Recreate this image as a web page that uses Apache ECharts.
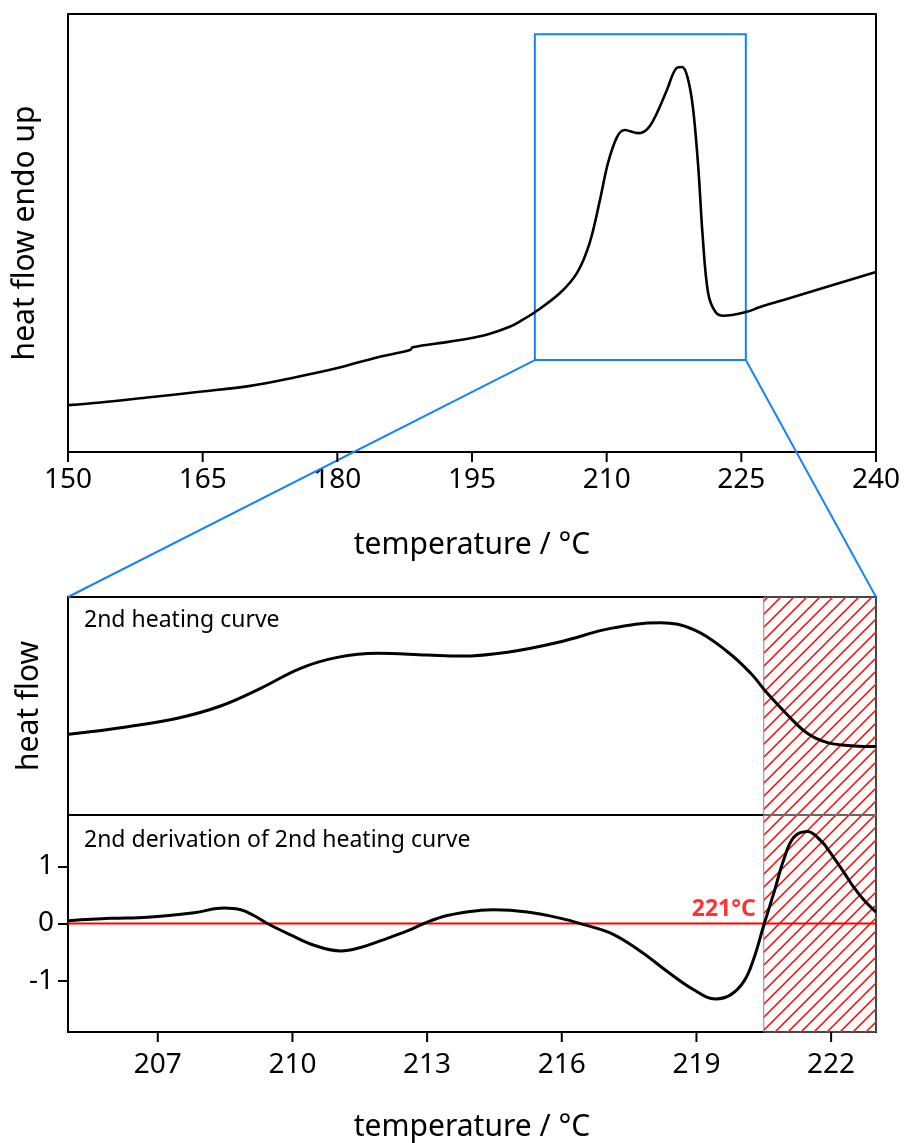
<!DOCTYPE html>
<html>
<head>
<meta charset="utf-8">
<script src="https://cdn.jsdelivr.net/npm/echarts@6/dist/echarts.min.js"></script>
<style>
  html, body { margin: 0; padding: 0; background: #fff; }
  #chart { width: 905px; height: 1143px; }
</style>
</head>
<body>
<div id="chart"></div>
<script>
// full DSC scan, 150-240 °C (heat flow in arbitrary units)
const fullTemp = [150, 153.6, 159.1, 164.9, 170.3, 174.7, 179.9, 184.4, 188.1, 188.4, 192.5, 196.3,
  199.2, 200.4, 202, 204.8, 206.7, 208.1, 209.25, 210.15, 211.15, 212.0, 213.5, 214.6, 215.6, 216.7,
  217.8, 218.4, 219.0, 219.6, 220.2, 220.7, 221.3, 222.1, 223.0, 225.6, 227.1, 229.7, 240]
const fullFlow = [10.7, 11.3, 12.5, 13.8, 15.1, 16.8, 19.1, 21.6, 23.3, 23.9, 25.2, 26.6,
  28.6, 29.9, 31.9, 36.3, 40.9, 47.7, 57.5, 66.0, 71.9, 73.5, 72.8, 73.9, 77.4, 82.6,
  87.7, 87.9, 85.6, 78.8, 65.1, 49.1, 36.3, 32.0, 31.1, 32.0, 33.1, 34.7, 41.1]
const fullTicks = [150, 165, 180, 195, 210, 225, 240]

// zoomed 2nd heating curve
const zoomTemp = [205.02, 206.33, 207.44, 208.40, 209.29, 210.18, 211.0, 211.89, 213.0, 213.75, 214.86,
  215.98, 217.09, 218.2, 218.95, 219.69, 220.21, 220.58, 221.03, 221.47, 221.92, 222.51, 223.0]
const zoomFlow = [37.0, 40.5, 44.4, 50.0, 58.1, 67.3, 72.3, 74.2, 73.4, 72.9, 74.9,
  79.5, 85.6, 88.2, 84.9, 74.9, 65.0, 55.8, 45.9, 37.5, 33.2, 31.7, 31.4]

// 2nd derivation of the 2nd heating curve
const derivTemp = [205.02, 205.95, 206.77, 207.81, 208.48, 208.85, 209.14, 209.44, 209.96, 210.48, 211.08,
  211.52, 211.97, 212.56, 212.93, 213.45, 214.19, 214.49, 215.23, 215.98, 216.49, 217.09, 217.76, 218.35,
  218.94, 219.43, 219.76, 220.06, 220.28, 220.50, 220.73, 220.95, 221.17, 221.47, 221.77, 222.0, 222.28,
  222.51, 222.73, 223.0]
const derivValue = [0.05, 0.09, 0.11, 0.19, 0.27, 0.24, 0.14, 0, -0.20, -0.38, -0.48,
  -0.42, -0.30, -0.13, 0, 0.14, 0.23, 0.24, 0.20, 0.09, -0.02, -0.17, -0.49, -0.84,
  -1.16, -1.32, -1.25, -1.01, -0.61, -0.03, 0.55, 1.13, 1.51, 1.61, 1.45, 1.22, 0.90,
  0.63, 0.41, 0.20]
const zoomTicks = [207, 210, 213, 216, 219, 222]
const derivTicks = [-1, 0, 1]

// zoom window shown in the full scan, and the onset region
const zoomBox = { from: 202, to: 225.5, low: 21, high: 95.4 }
const onset = 220.5
const onsetLabel = '221°C'

const font = 'Noto Sans'
const blue = '#1684f7'

// hatch pattern for the onset region
const hatch = document.createElement('canvas')
hatch.width = 13
hatch.height = 13
const hctx = hatch.getContext('2d')
hctx.strokeStyle = '#ff0000'
hctx.lineWidth = 1.5
hctx.beginPath()
hctx.moveTo(0, 13); hctx.lineTo(13, 0)
hctx.moveTo(-3, 3); hctx.lineTo(3, -3)
hctx.moveTo(10, 16); hctx.lineTo(16, 10)
hctx.stroke()

const zip = (xs, ys) => xs.map((x, i) => [x, ys[i]])

const onsetArea = {
  silent: true,
  itemStyle: { color: { image: hatch, repeat: 'repeat' }, opacity: 1, borderColor: '#888', borderWidth: 1 },
  data: [[{ xAxis: onset }, { xAxis: 'max' }]]
}

const nameStyle = { fontSize: 30, color: '#000', fontFamily: font }
const tickLabel = { fontSize: 28, color: '#000', fontFamily: font }
const tickStyle = { color: '#000', width: 2 }

const chart = echarts.init(document.getElementById('chart'))

const option = {
  animation: false,
  textStyle: { fontFamily: font },
  title: [
    { text: '2nd heating curve', left: 79, top: 604,
      textStyle: { fontFamily: font, fontSize: 23, fontWeight: 'normal', color: '#000' } },
    { text: '2nd derivation of 2nd heating curve', left: 79, top: 824,
      textStyle: { fontFamily: font, fontSize: 23, fontWeight: 'normal', color: '#000' } }
  ],
  grid: [
    { left: 68, top: 14, width: 808, height: 438, show: true, borderColor: '#000', borderWidth: 2 },
    { left: 68, top: 597, width: 808, height: 218, show: true, borderColor: '#000', borderWidth: 2 },
    { left: 68, top: 815, width: 808, height: 218, show: true, borderColor: '#000', borderWidth: 2 }
  ],
  xAxis: [
    {
      gridIndex: 0, type: 'value', position: 'bottom', min: 150, max: 240, interval: 15,
      name: 'temperature / °C', nameLocation: 'middle', nameGap: 78, nameTextStyle: nameStyle,
      axisLine: { show: true, onZero: false, lineStyle: { color: '#000', width: 2 } },
      axisTick: { show: false },
      axisLabel: Object.assign({ margin: 14, customValues: fullTicks }, tickLabel),
      splitLine: { show: false }
    },
    {
      gridIndex: 1, type: 'value', min: 205, max: 223,
      axisLine: { show: false }, axisTick: { show: false }, axisLabel: { show: false },
      splitLine: { show: false }
    },
    {
      gridIndex: 2, type: 'value', position: 'bottom', min: 205, max: 223,
      name: 'temperature / °C', nameLocation: 'middle', nameGap: 80, nameTextStyle: nameStyle,
      axisLine: { show: true, onZero: false, lineStyle: { color: '#000', width: 2 } },
      axisTick: { show: false },
      axisLabel: Object.assign({ margin: 19, customValues: zoomTicks }, tickLabel),
      splitLine: { show: false }
    }
  ],
  yAxis: [
    {
      gridIndex: 0, type: 'value', min: 0, max: 100,
      name: 'heat flow endo up', nameLocation: 'middle', nameGap: 28, nameTextStyle: nameStyle,
      axisLine: { onZero: false, lineStyle: { color: '#000', width: 2 } },
      axisTick: { show: false }, axisLabel: { show: false }, splitLine: { show: false }
    },
    {
      gridIndex: 1, type: 'value', min: 0, max: 100,
      name: 'heat flow', nameLocation: 'middle', nameGap: 24, nameTextStyle: nameStyle,
      axisLine: { onZero: false, lineStyle: { color: '#000', width: 2 } },
      axisTick: { show: false }, axisLabel: { show: false }, splitLine: { show: false }
    },
    {
      gridIndex: 2, type: 'value', min: -1.9, max: 1.9,
      axisLine: { onZero: false, lineStyle: { color: '#000', width: 2 } },
      axisTick: { show: true, length: 10, inside: false, customValues: derivTicks, lineStyle: tickStyle },
      axisLabel: Object.assign({ margin: 14, customValues: derivTicks }, tickLabel),
      splitLine: { show: false }
    }
  ],
  series: [
    {
      name: 'full scan', type: 'line', xAxisIndex: 0, yAxisIndex: 0,
      data: zip(fullTemp, fullFlow), smooth: 0.35, showSymbol: false,
      lineStyle: { color: '#000', width: 2.6 },
      markArea: {
        silent: true,
        itemStyle: { color: 'rgba(0,0,0,0)', borderColor: blue, borderWidth: 2 },
        data: [[{ coord: [zoomBox.from, zoomBox.low] }, { coord: [zoomBox.to, zoomBox.high] }]]
      }
    },
    {
      name: '2nd heating curve', type: 'line', xAxisIndex: 1, yAxisIndex: 1,
      data: zip(zoomTemp, zoomFlow), smooth: 0.4, showSymbol: false,
      lineStyle: { color: '#000', width: 3 },
      markArea: onsetArea, z: 3
    },
    {
      name: 'zero', type: 'line', xAxisIndex: 2, yAxisIndex: 2,
      data: [[205, 0], [223, 0]], showSymbol: false,
      lineStyle: { color: '#ff0000', width: 2 }, z: 2,
      markArea: onsetArea
    },
    {
      name: '2nd derivation', type: 'line', xAxisIndex: 2, yAxisIndex: 2,
      data: zip(derivTemp, derivValue), smooth: 0.4, showSymbol: false,
      lineStyle: { color: '#000', width: 3 }, z: 3
    },
    {
      name: 'onset', type: 'scatter', xAxisIndex: 2, yAxisIndex: 2,
      data: [[onset, 0]], symbolSize: 0, z: 4,
      label: {
        show: true, position: 'left', distance: 8, offset: [0, -14],
        formatter: onsetLabel, color: '#ff0000', fontWeight: 'bold', fontSize: 23, fontFamily: font
      }
    }
  ]
}

chart.setOption(option)

const px = (axis, point) => chart.convertToPixel({ xAxisIndex: axis, yAxisIndex: axis }, point)

// blue zoom lines from the box corners down to the zoomed panel
const boxLeft = px(0, [zoomBox.from, zoomBox.low])
const boxRight = px(0, [zoomBox.to, zoomBox.low])
const panelLeft = px(1, [205, 100])
const panelRight = px(1, [223, 100])

const blueLine = (a, b) => ({
  type: 'line', z: 10, shape: { x1: a[0], y1: a[1], x2: b[0], y2: b[1] },
  style: { stroke: blue, lineWidth: 2 }
})

// outward x ticks, placed through the axis scales
const xTick = (axis, value, yMin) => {
  const p = px(axis, [value, yMin])
  return { type: 'line', z: 10, shape: { x1: p[0], y1: p[1], x2: p[0], y2: p[1] + 10 },
    style: { stroke: '#000', lineWidth: 2 } }
}

chart.setOption({
  graphic: [blueLine(boxLeft, panelLeft), blueLine(boxRight, panelRight)]
    .concat(fullTicks.map(v => xTick(0, v, 0)))
    .concat(zoomTicks.map(v => xTick(2, v, -1.9)))
})
</script>
</body>
</html>
